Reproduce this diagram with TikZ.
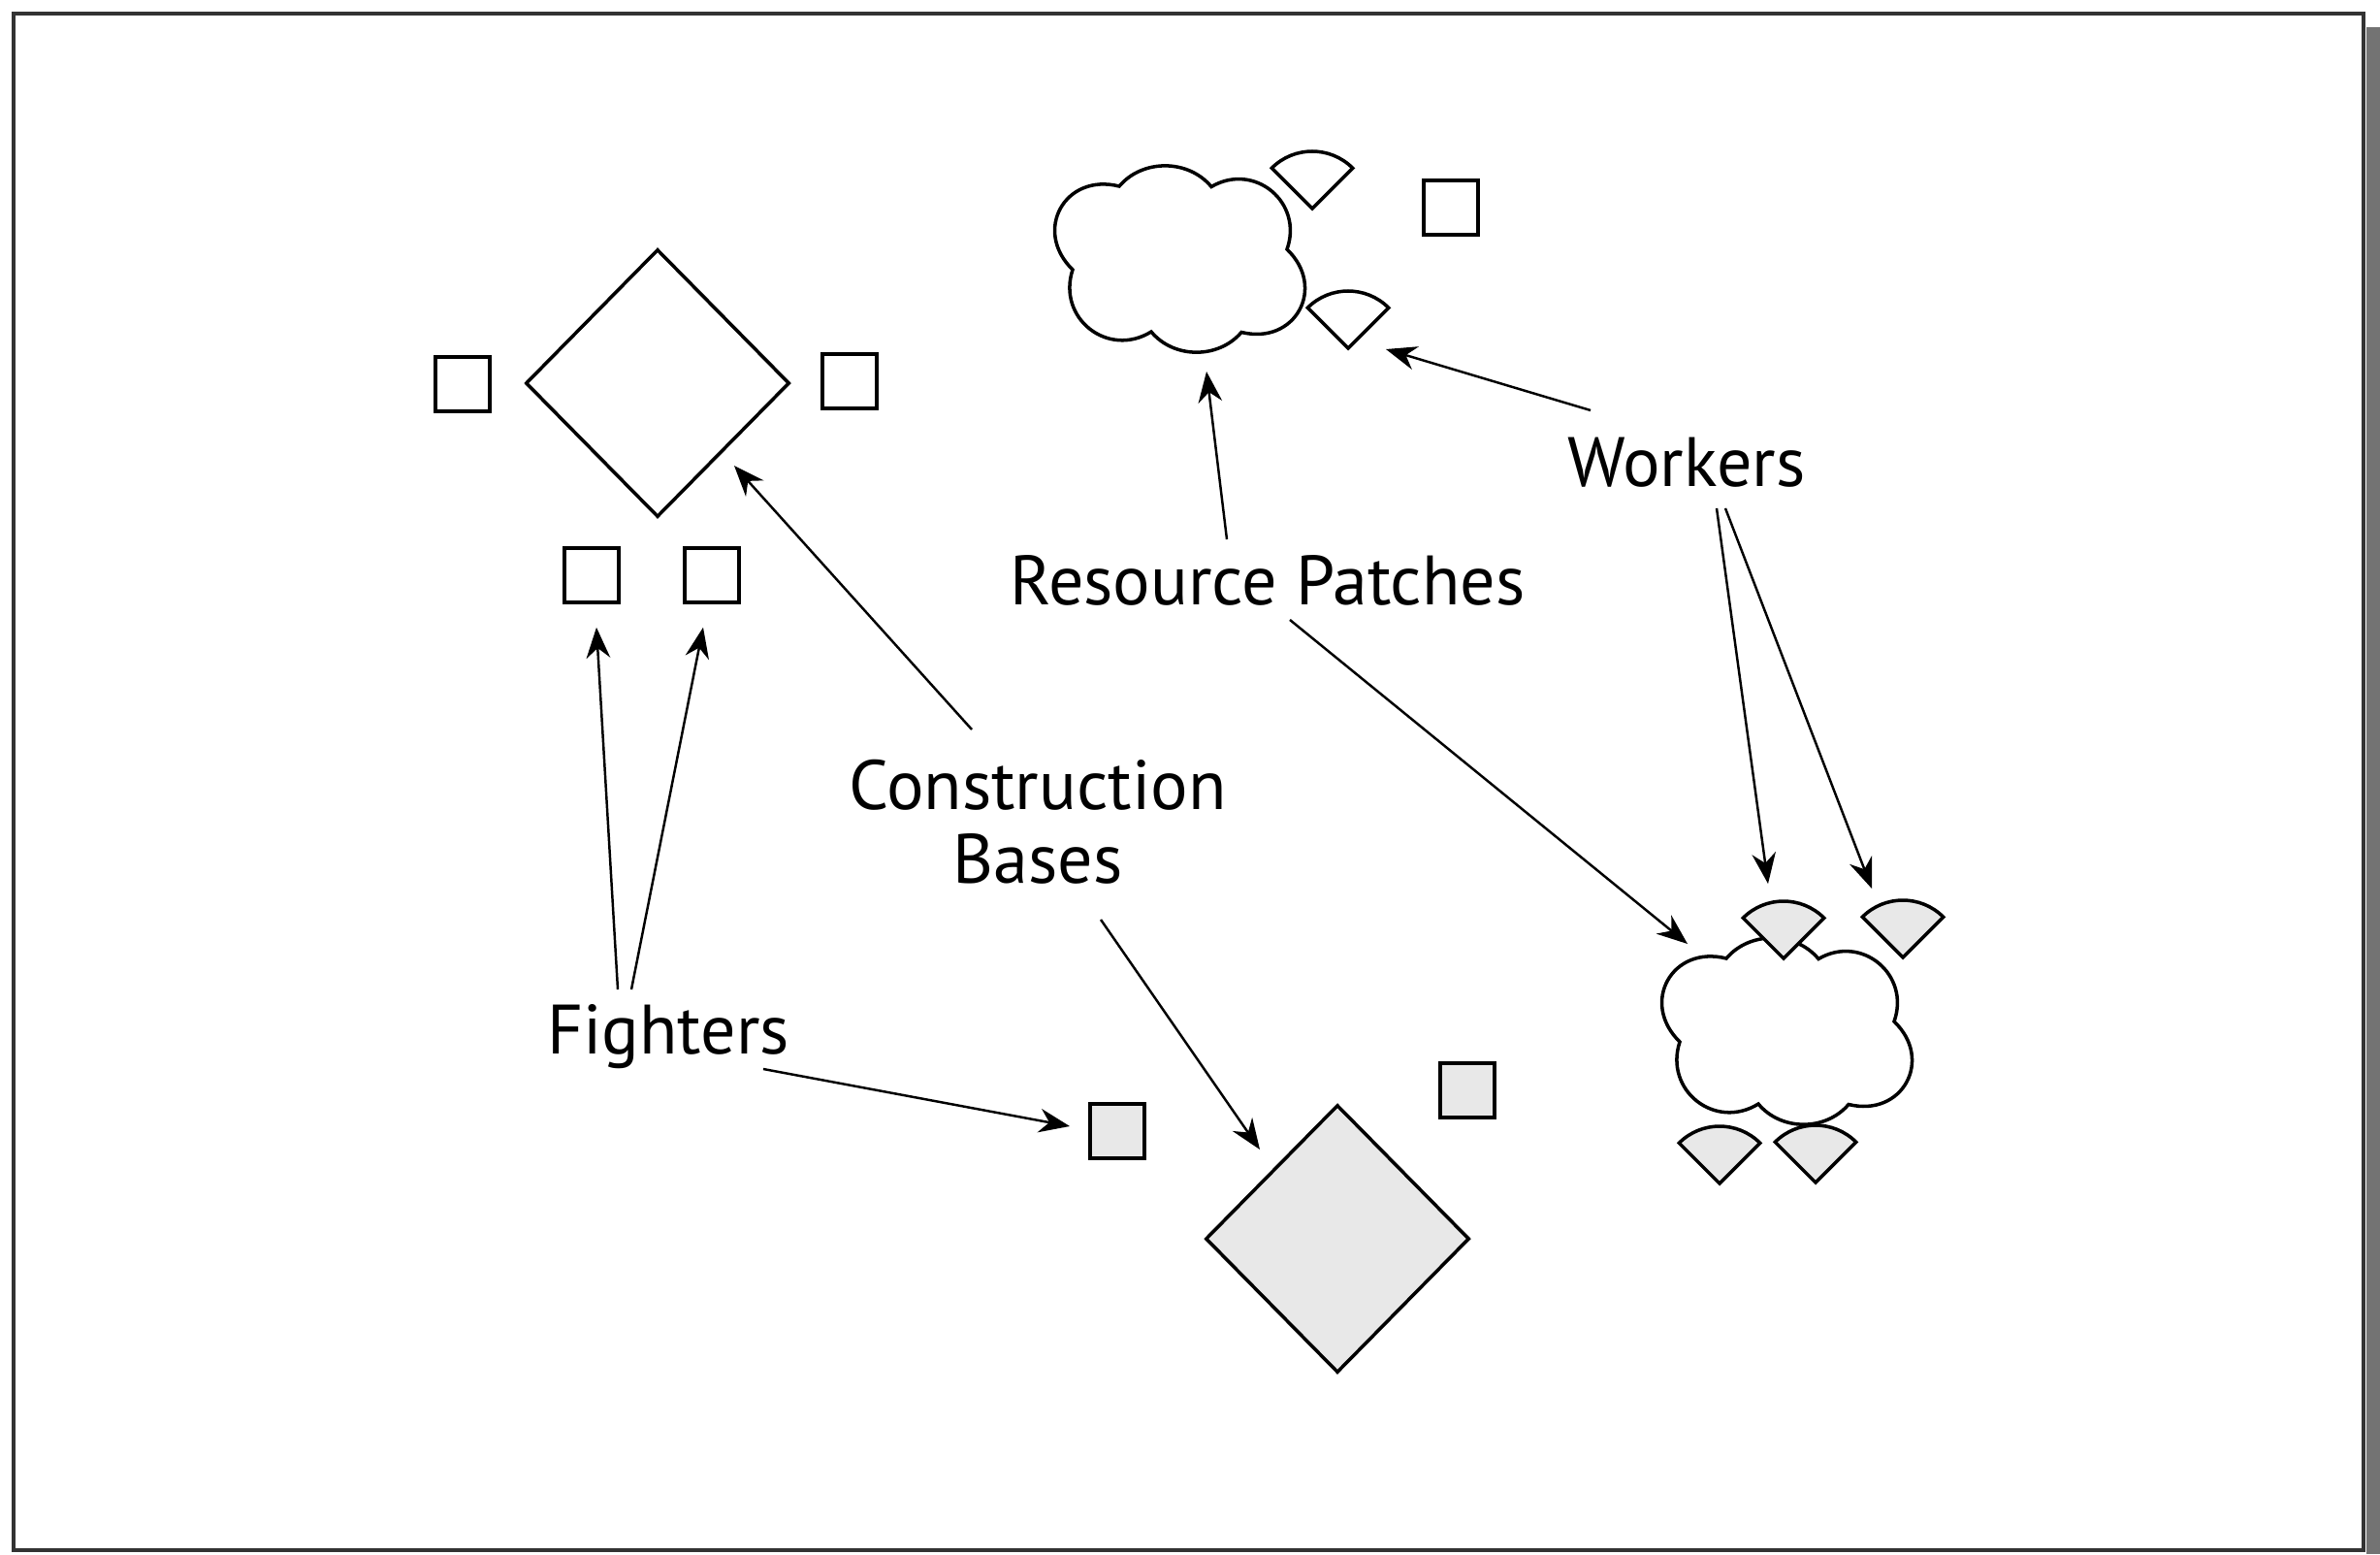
\documentclass[tikz,border=0pt]{standalone}
\usepackage{fontspec}
\setmainfont{PT Sans}
\usetikzlibrary{shapes.geometric,arrows.meta}
\definecolor{unitgray}{gray}{0.91}
\tikzset{
  lbl/.style={font=\fontsize{20.5}{21.5}\selectfont, inner sep=0pt, align=center},
  arr/.style={line width=0.7pt, -{Stealth[length=9pt,width=7pt]}},
  bldg/.style={diamond, draw, line width=1pt, inner sep=0pt, minimum width=2.72cm, minimum height=2.76cm},
  unitsq/.style={draw, line width=1pt, inner sep=0pt, minimum size=0.56cm},
  patch/.pic={\draw[pic actions, line width=1pt] (-1.10,-0.11) to[bend left=75, looseness=1.5] (-0.62,0.75)
      to[bend left=50] (0.33,0.745) to[bend left=70, looseness=1.3] (1.11,0.10)
      to[bend left=75, looseness=1.5] (0.64,-0.755) to[bend left=50] (-0.29,-0.75)
      to[bend left=70, looseness=1.3] (-1.10,-0.11) -- cycle;
    \coordinate (-c) at (0,0);},
  worker/.pic={\draw[pic actions, line width=1pt] (0,0) -- (45:0.59) arc (45:135:0.59) -- cycle; \coordinate (-a) at (0,0);}
}
\begin{document}
\begin{tikzpicture}
  \useasboundingbox (0,0) rectangle (24.54,-16.02);
  % frame
  \fill[black!55] (24.40,-0.28) rectangle (24.54,-16.02);
  \draw[black!80, line width=1.2pt] (0.14,-0.14) rectangle (24.37,-15.98);

  % left base and its fighters
  \node[bldg] (ldia) at (6.78,-3.95) {};
  \node[unitsq] (sqL) at (4.77,-3.96) {};
  \node[unitsq] (sqR) at (8.76,-3.93) {};
  \node[unitsq] (sqA) at (6.10,-5.93) {};
  \node[unitsq] (sqB) at (7.34,-5.93) {};
  \node[unitsq] (sqT) at (14.96,-2.14) {};

  % grey base
  \node[bldg, fill=unitgray] (gdia) at (13.79,-12.77) {};
  \node[unitsq, fill=unitgray] (gsqA) at (11.52,-11.66) {};
  \node[unitsq, fill=unitgray] (gsqB) at (15.13,-11.24) {};

  % resource patches
  \pic[fill=white] (tcl) at (12.16,-2.67) {patch};
  \pic[fill=white] (bcl) at (18.42,-10.63) {patch};

  % workers
  \foreach \n/\x/\y in {wT1/13.53/-2.15, wT2/13.90/-3.59}
    \pic (\n) at (\x,\y) {worker};
  \foreach \n/\x/\y in {wB1/18.39/-9.88, wB2/19.62/-9.87, wB3/17.73/-12.20, wB4/18.72/-12.19}
    \pic[fill=unitgray] (\n) at (\x,\y) {worker};

  % labels
  \node[lbl, anchor=base] (wk) at (17.39,-5.01) {Workers};
  \node[lbl, anchor=base] (rp) at (13.07,-6.23) {Resource Patches};
  \node[lbl] (cb) at (10.70,-8.47) {Construction\\Bases};
  \node[lbl, anchor=base] (fi) at (6.89,-10.86) {Fighters};

  \draw[arr] ([shift={(-0.99,0.78)}]wk.base) -- ([shift={(0.39,-0.01)}]wT2-a);
  \draw[arr] ([shift={(0.31,-0.23)}]wk.base) -- ([shift={(-0.16,0.77)}]wB1-a);
  \draw[arr] ([shift={(0.40,-0.23)}]wk.base) -- ([shift={(-0.32,0.71)}]wB2-a);
  \draw[arr] ([shift={(-0.42,0.67)}]rp.base) -- ([shift={(0.28,-1.16)}]tcl-c);
  \draw[arr] ([shift={(0.23,-0.16)}]rp.base) -- ([shift={(-1.02,0.90)}]bcl-c);
  \draw[arr] ([shift={(-0.68,0.95)}]cb.center) -- ([shift={(0.79,-0.85)}]ldia.center);
  \draw[arr] ([shift={(0.65,-1.01)}]cb.center) -- ([shift={(-0.80,0.92)}]gdia.center);
  \draw[arr] ([shift={(-0.52,0.66)}]fi.base) -- ([shift={(0.05,-0.24)}]sqA.south);
  \draw[arr] ([shift={(-0.38,0.66)}]fi.base) -- ([shift={(-0.09,-0.24)}]sqB.south);
  \draw[arr] ([shift={(0.98,-0.16)}]fi.base) -- ([shift={(-0.49,0.05)}]gsqA.center);
\end{tikzpicture}
\end{document}
